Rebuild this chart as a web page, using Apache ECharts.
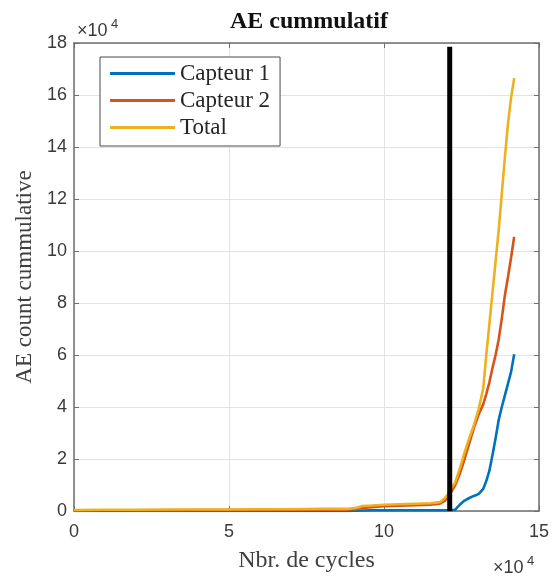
<!DOCTYPE html>
<html>
<head>
<meta charset="utf-8">
<script src="https://cdn.jsdelivr.net/npm/echarts@6/dist/echarts.min.js"></script>
<style>
  html, body { margin: 0; padding: 0; background: #fff; }
  #chart { width: 552px; height: 578px; }
</style>
</head>
<body>
<div id="chart"></div>
<script>
// Cycle counts, in units of 10^4 cycles
const cycles = [0, 1, 2, 3, 4, 5, 6, 7, 8, 8.8, 9.1, 9.3, 9.6, 10, 10.5, 11, 11.5, 11.8, 11.95,
  12.05, 12.15, 12.3, 12.45, 12.6, 12.75, 12.9, 13.05, 13.2, 13.3, 13.4, 13.5, 13.6, 13.7,
  13.8, 13.9, 14.0, 14.1, 14.2];

// Cumulative AE counts, in units of 10^4
const capteur1 = [0, 0, 0, 0, 0, 0, 0, 0, 0, 0, 0.01, 0.02, 0.03, 0.03, 0.03, 0.03, 0.03, 0.03, 0.03,
  0.03, 0.03, 0.05, 0.25, 0.4, 0.5, 0.58, 0.65, 0.85, 1.15, 1.55, 2.15, 2.8, 3.5,
  4.0, 4.45, 4.9, 5.35, 6.03];
const capteur2 = [0.02, 0.03, 0.03, 0.03, 0.04, 0.04, 0.04, 0.05, 0.05, 0.05, 0.08, 0.12, 0.15, 0.18, 0.2, 0.22, 0.24, 0.28, 0.38,
  0.5, 0.7, 1.0, 1.45, 2.0, 2.6, 3.2, 3.7, 4.1, 4.5, 4.95, 5.5, 6.0, 6.6,
  7.4, 8.3, 9.0, 9.75, 10.55];
const total = [0.04, 0.05, 0.05, 0.06, 0.06, 0.06, 0.07, 0.07, 0.08, 0.08, 0.12, 0.19, 0.21, 0.24, 0.26, 0.28, 0.3, 0.34, 0.48,
  0.62, 0.85, 1.1, 1.65, 2.25, 2.8, 3.3, 3.9, 4.7, 6.0, 7.2, 8.4, 9.6, 10.8,
  12.2, 13.6, 14.9, 15.9, 16.65];

// Vertical marker (cycle position and height, 10^4 units)
const markerCycle = 12.12;
const markerTop = 17.86;

const xTicks = { min: 0, max: 15, step: 5 };
const yTicks = { min: 0, max: 18, step: 2 };

const seriesNames = ['Capteur 1', 'Capteur 2', 'Total'];
const seriesColors = ['#0072BD', '#D95319', '#EDB120'];

const pair = (xs, ys) => xs.map((x, i) => [x, ys[i]]);

const serif = '"Liberation Serif", "DejaVu Serif", serif';
const sans = '"Liberation Sans", Arial, sans-serif';
const axisGray = '#6e6e6e';
const textGray = '#3a3a3a';

const chart = echarts.init(document.getElementById('chart'), null, { renderer: 'canvas' });

const grid = { left: 74, right: 10, top: 43, bottom: 63 };

function frameAxis(base) {
  return Object.assign({
    type: 'value',
    axisLine: { show: true, onZero: false, lineStyle: { color: axisGray, width: 1.5 } },
    axisTick: { show: true, inside: true, length: 5, lineStyle: { color: axisGray, width: 1 } },
    axisLabel: { show: false },
    splitLine: { show: false }
  }, base);
}

const option = {
  animation: false,
  backgroundColor: '#ffffff',
  grid: grid,
  legend: {
    data: seriesNames,
    orient: 'vertical',
    left: 100,
    top: 57,
    icon: 'rect',
    itemWidth: 65,
    itemHeight: 3,
    itemGap: 0,
    padding: [3, 10, 5, 10],
    borderColor: '#4a4a4a',
    borderWidth: 1,
    backgroundColor: '#ffffff',
    textStyle: { fontFamily: serif, fontSize: 23, color: '#262626', lineHeight: 27 }
  },
  xAxis: [
    {
      type: 'value',
      min: xTicks.min, max: xTicks.max, interval: xTicks.step,
      name: 'Nbr. de cycles',
      nameLocation: 'middle',
      nameGap: 38,
      nameTextStyle: { fontFamily: serif, fontSize: 24, color: '#404040' },
      axisLine: { show: true, onZero: false, lineStyle: { color: axisGray, width: 1.5 } },
      axisTick: { show: true, inside: true, length: 5, lineStyle: { color: axisGray, width: 1 } },
      axisLabel: { margin: 12, fontFamily: sans, fontSize: 18, color: textGray },
      splitLine: { show: true, lineStyle: { color: '#e3e3e3', width: 1 } }
    },
    frameAxis({ position: 'top', min: xTicks.min, max: xTicks.max, interval: xTicks.step })
  ],
  yAxis: [
    {
      type: 'value',
      min: yTicks.min, max: yTicks.max, interval: yTicks.step,
      name: 'AE count cummulative',
      nameLocation: 'middle',
      nameGap: 34,
      nameTextStyle: { fontFamily: serif, fontSize: 23, color: '#404040' },
      axisLine: { show: true, onZero: false, lineStyle: { color: axisGray, width: 1.5 } },
      axisTick: { show: true, inside: true, length: 5, lineStyle: { color: axisGray, width: 1 } },
      axisLabel: { margin: 7, fontFamily: sans, fontSize: 18, color: textGray },
      splitLine: { show: true, lineStyle: { color: '#e3e3e3', width: 1 } }
    },
    frameAxis({ position: 'right', min: yTicks.min, max: yTicks.max, interval: yTicks.step })
  ],
  series: [
    {
      name: seriesNames[0], type: 'line', data: pair(cycles, capteur1),
      showSymbol: false, symbol: 'none',
      lineStyle: { color: seriesColors[0], width: 2.6 }, itemStyle: { color: seriesColors[0] }, z: 3
    },
    {
      name: seriesNames[1], type: 'line', data: pair(cycles, capteur2),
      showSymbol: false, symbol: 'none',
      lineStyle: { color: seriesColors[1], width: 2.6 }, itemStyle: { color: seriesColors[1] }, z: 4
    },
    {
      name: seriesNames[2], type: 'line', data: pair(cycles, total),
      showSymbol: false, symbol: 'none',
      lineStyle: { color: seriesColors[2], width: 2.6 }, itemStyle: { color: seriesColors[2] }, z: 5
    },
    {
      name: 'marker', type: 'line',
      data: [[markerCycle, 0], [markerCycle, markerTop]],
      showSymbol: false, symbol: 'none',
      lineStyle: { color: '#000000', width: 5 }, z: 6
    }
  ],
  graphic: [
    {
      type: 'text', x: 309, y: 22,
      style: {
        text: 'AE cummulatif', fontFamily: serif, fontSize: 24, fontWeight: 'bold',
        fill: '#111111', align: 'center', verticalAlign: 'middle'
      }
    },
    {
      type: 'text', x: 77, y: 31,
      style: { text: '×10', fontFamily: sans, fontSize: 18, fill: textGray, align: 'left', verticalAlign: 'middle' }
    },
    {
      type: 'text', x: 111, y: 24,
      style: { text: '4', fontFamily: sans, fontSize: 13, fill: textGray, align: 'left', verticalAlign: 'middle' }
    },
    {
      type: 'text', x: 493, y: 568,
      style: { text: '×10', fontFamily: sans, fontSize: 18, fill: textGray, align: 'left', verticalAlign: 'middle' }
    },
    {
      type: 'text', x: 527, y: 561,
      style: { text: '4', fontFamily: sans, fontSize: 13, fill: textGray, align: 'left', verticalAlign: 'middle' }
    }
  ]
};

chart.setOption(option);
</script>
</body>
</html>
